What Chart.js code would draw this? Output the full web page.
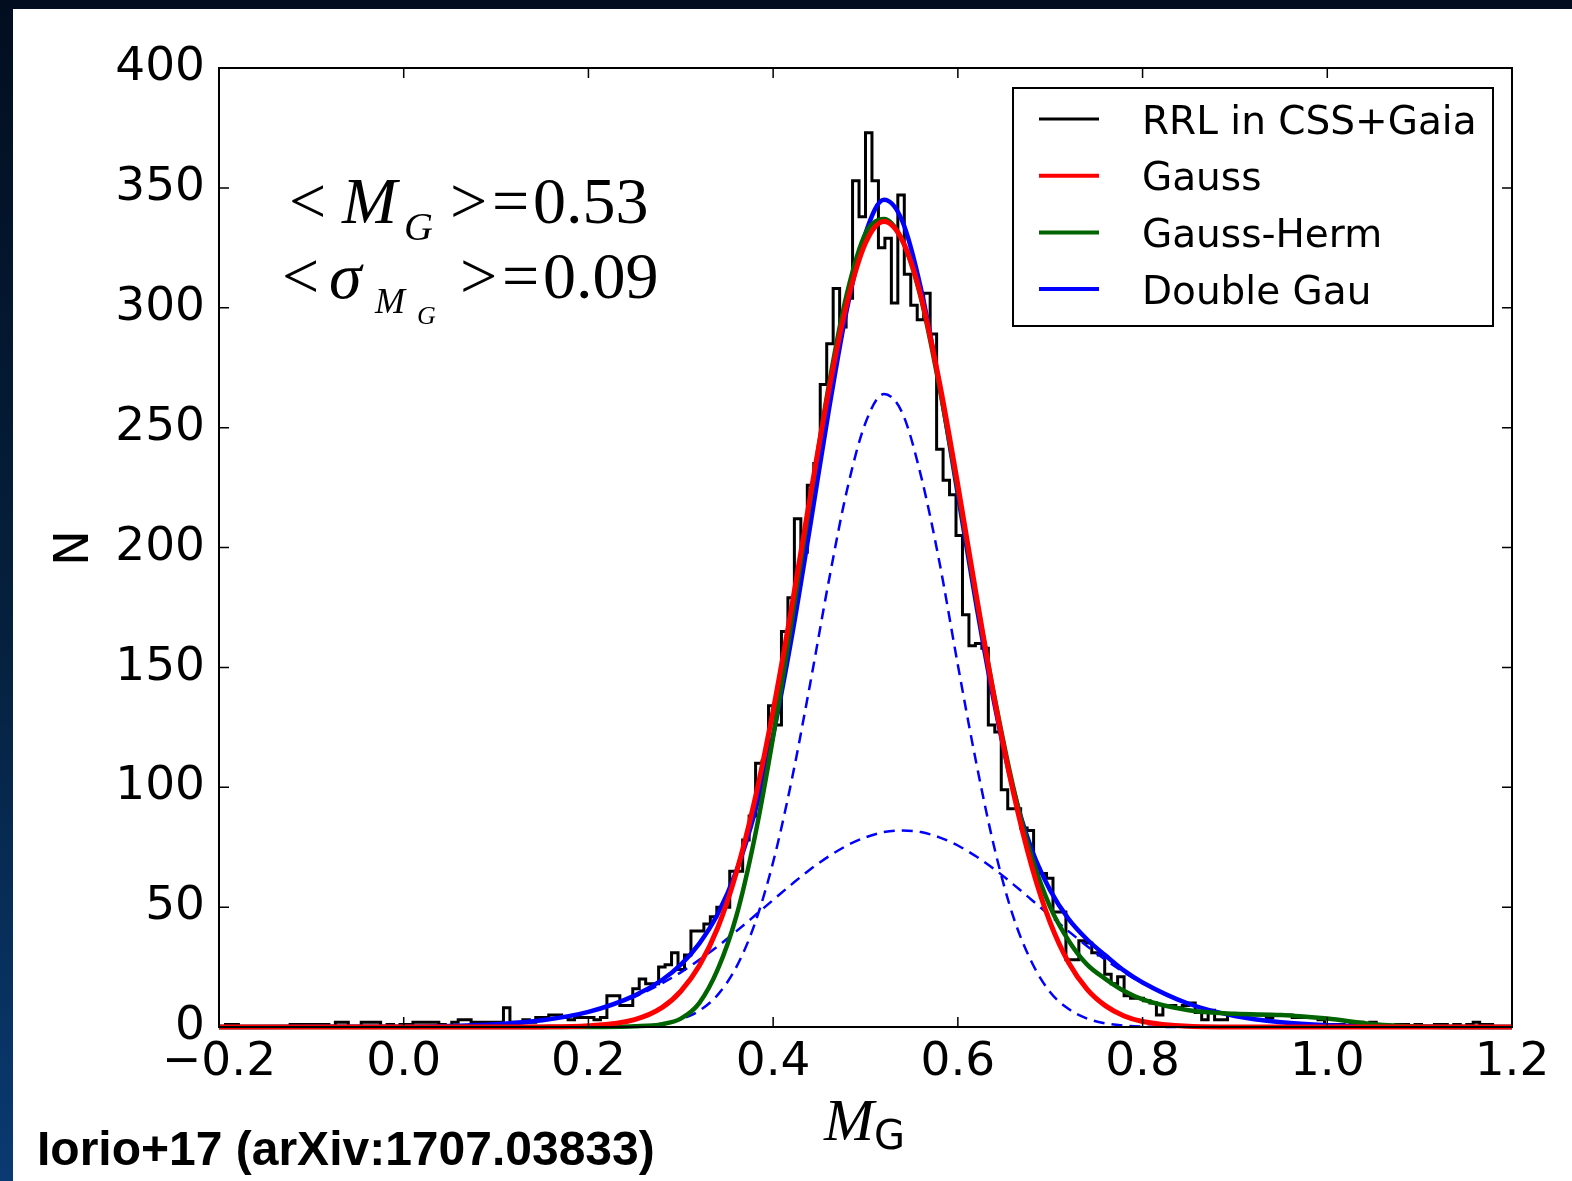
<!DOCTYPE html>
<html>
<head>
<meta charset="utf-8">
<script src="https://cdn.jsdelivr.net/npm/chart.js@4.4.1/dist/chart.umd.min.js"></script>
<style>
  html, body { margin: 0; padding: 0; width: 1572px; height: 1181px; overflow: hidden; }
  body { position: relative; background: linear-gradient(to bottom, #020e20 0%, #05213f 55%, #0a3a72 100%); }
  #panel { position: absolute; left: 13px; top: 9px; right: 0; bottom: 0; background: #ffffff; }
  #contenedor { position: absolute; left: 0; top: 0; width: 1572px; height: 1181px; }
</style>
</head>
<body>
<div id="panel"></div>
<div id="contenedor"><canvas id="grafica"></canvas></div>
<script>
// Histograma de M_G: bins de 0.007 desde -0.2
var inicioBins = -0.2;
var anchoBin = 0.007;
var conteos = [
  0, 0, 1, 1, 0, 0, 0, 0, 0, 0,
  0, 0, 1, 1, 1, 1, 1, 1, 0, 2,
  2, 0, 0, 2, 2, 2, 0, 1, 0, 1,
  1, 2, 2, 2, 2, 1, 0, 2, 3, 3,
  2, 2, 2, 2, 2, 8, 2, 2, 3, 2,
  4, 4, 5, 5, 4, 3, 4, 4, 4, 3,
  4, 13, 13, 9, 9, 16, 20, 18, 18, 25,
  26, 31, 24, 30, 40, 40, 43, 46, 50, 50,
  65, 65, 78, 88, 110, 111, 134, 126, 165, 179,
  212, 198, 226, 235, 268, 285, 308, 292, 304, 353,
  338, 373, 353, 325, 329, 302, 347, 314, 301, 295,
  306, 289, 241, 228, 222, 205, 172, 159, 160, 158,
  126, 123, 99, 91, 91, 83, 82, 66, 64, 62,
  48, 48, 28, 28, 36, 35, 31, 30, 22, 18,
  21, 13, 12, 12, 11, 10, 5, 9, 9, 8,
  9, 10, 6, 3, 7, 3, 3, 5, 5, 4,
  5, 5, 5, 4, 5, 5, 5, 4, 4, 4,
  4, 3, 1, 1, 1, 0, 2, 2, 1, 2,
  0, 0, 0, 1, 1, 0, 1, 0, 0, 1,
  1, 0, 1, 0, 1, 2, 1, 1, 0, 0
];

// Curvas de ajuste
var xAjuste = [-0.2, -0.1, 0.0, 0.05, 0.1, 0.15, 0.2, 0.25,
  0.28, 0.30, 0.32, 0.34, 0.36, 0.38, 0.40, 0.42, 0.44, 0.46, 0.48, 0.50, 0.52, 0.54,
  0.56, 0.58, 0.60, 0.62, 0.64, 0.66, 0.68, 0.70, 0.72, 0.74, 0.76, 0.78, 0.80,
  0.85, 0.90, 0.95, 1.00, 1.05, 1.10, 1.15, 1.20];
var gauss = [0, 0, 0, 0, 0, 0.05, 0.5, 3.1,
  8.2, 14.9, 25.5, 41.4, 64.2, 94.4, 132, 175, 221, 265, 302, 327, 336, 328,
  305, 269, 226, 180, 136, 98, 67, 43.5, 26.8, 15.7, 8.8, 4.6, 2.3,
  0.3, 0, 0, 0, 0, 0, 0, 0];
var gaussHerm = [0, 0, 0, 0, 0, 0, 0, 0.3,
  1.2, 3.5, 10, 24, 46, 79, 121, 169, 219, 267, 306, 331, 337, 328,
  304, 267, 224, 179, 137, 100, 71, 50, 36, 26, 20, 15, 11.5,
  7, 5.5, 5, 3.5, 1.2, 0.2, 0, 0];
var dobleGau = [0, 0.1, 0.15, 0.4, 1.1, 2.8, 6.3, 13.1,
  19.7, 26, 34.8, 47.1, 64.8, 89.3, 121.8, 162.3, 208.7, 256.6, 299.7, 331, 345, 336,
  308, 268, 222, 176, 134, 99, 74, 57, 45, 36.5, 29.8, 23.5, 18.6,
  9.7, 4.6, 2.0, 0.75, 0.25, 0.08, 0, 0];
var gauAngosta = [0, 0, 0, 0, 0, 0, 0, 0.2,
  1.4, 3.2, 6.8, 13.4, 24.9, 42.9, 68.8, 102.8, 143, 185.5, 224, 252, 264, 256,
  230, 194, 151, 110, 74, 46, 27, 14.5, 7.5, 3.5, 1.5, 0.6, 0.2,
  0, 0, 0, 0, 0, 0, 0, 0];
var gauAncha = [0, 0.02, 0.13, 0.4, 1.1, 2.8, 6.3, 12.7,
  18.3, 22.8, 28, 33.7, 39.9, 46.4, 53, 59.5, 65.7, 71.1, 75.7, 79.1, 81.3, 82,
  81.3, 79.1, 75.7, 71.1, 65.7, 59.5, 53, 46.4, 39.9, 33.7, 28, 22.8, 18.3,
  9.7, 4.6, 2.0, 0.75, 0.25, 0.08, 0, 0];

var etiquetas = ['RRL in CSS+Gaia', 'Gauss', 'Gauss-Herm', 'Double Gau'];
var ticksX = [-0.2, 0.0, 0.2, 0.4, 0.6, 0.8, 1.0, 1.2];
var ticksY = [0, 50, 100, 150, 200, 250, 300, 350, 400];

// Puntos del histograma (escalones)
function puntosHistograma() {
    var pts = conteos.map(function (c, i) {
        return { x: inicioBins + i * anchoBin, y: c };
    });
    pts.push({ x: inicioBins + conteos.length * anchoBin, y: conteos[conteos.length - 1] });
    return pts;
}

function puntosCurva(valores) {
    return xAjuste.map(function (x, i) { return { x: x, y: valores[i] }; });
}

function formatoTick(v) {
    if (Math.abs(v) < 1e-9) return '0.0';
    return v.toFixed(1).replace('-', '\u2212');
}

// Marco, ticks internos, leyenda y textos
var decoracion = {
    id: 'decoracion',
    afterDraw: function (chart) {
        var ctx = chart.ctx;
        var a = chart.chartArea;
        var sx = chart.scales.x, sy = chart.scales.y;
        ctx.save();

        // ticks hacia adentro en los cuatro lados
        ctx.strokeStyle = '#000';
        ctx.lineWidth = 1.5;
        ctx.beginPath();
        ticksX.forEach(function (v) {
            var px = sx.getPixelForValue(v);
            ctx.moveTo(px, a.bottom); ctx.lineTo(px, a.bottom - 10);
            ctx.moveTo(px, a.top); ctx.lineTo(px, a.top + 10);
        });
        ticksY.forEach(function (v) {
            var py = sy.getPixelForValue(v);
            ctx.moveTo(a.left, py); ctx.lineTo(a.left + 10, py);
            ctx.moveTo(a.right, py); ctx.lineTo(a.right - 10, py);
        });
        ctx.stroke();

        // marco
        ctx.lineWidth = 2;
        ctx.strokeRect(a.left, a.top, a.right - a.left, a.bottom - a.top);

        // leyenda
        var bx = a.right - 19 - 480, by = a.top + 20;
        ctx.fillStyle = '#fff';
        ctx.fillRect(bx, by, 480, 238);
        ctx.lineWidth = 2;
        ctx.strokeStyle = '#000';
        ctx.strokeRect(bx, by, 480, 238);
        var colores = ['#000000', '#ff0000', '#006400', '#0000ff'];
        ctx.font = '39px "DejaVu Sans"';
        ctx.textAlign = 'left';
        ctx.textBaseline = 'alphabetic';
        etiquetas.forEach(function (t, i) {
            var fy = by + 31 + i * 56.7;
            ctx.strokeStyle = colores[i];
            ctx.lineWidth = i === 0 ? 3 : 4;
            ctx.beginPath();
            ctx.moveTo(bx + 26, fy); ctx.lineTo(bx + 86, fy);
            ctx.stroke();
            ctx.fillStyle = '#000';
            ctx.fillText(t, bx + 129, fy + 14.5);
        });

        // titulo del eje y
        ctx.fillStyle = '#000';
        ctx.save();
        ctx.translate(88, 548);
        ctx.rotate(-Math.PI / 2);
        ctx.font = '48px "DejaVu Sans"';
        ctx.textAlign = 'center';
        ctx.fillText('N', 0, 0);
        ctx.restore();

        // titulo del eje x: M_G
        ctx.textAlign = 'left';
        ctx.font = 'italic 60px "Liberation Serif"';
        ctx.fillText('M', 824, 1140);
        ctx.font = '40px "DejaVu Sans"';
        ctx.fillText('G', 874, 1149);

        // anotacion <M_G> = 0.53
        ctx.font = '66px "Liberation Serif"';
        ctx.fillText('<', 289, 223);
        ctx.font = 'italic 66px "Liberation Serif"';
        ctx.fillText('M', 342, 223);
        ctx.font = 'italic 40px "Liberation Serif"';
        ctx.fillText('G', 404, 240);
        ctx.font = '66px "Liberation Serif"';
        ctx.fillText('>', 450, 223);
        ctx.fillText('=', 492, 223);
        ctx.fillText('0.53', 533, 223);

        // anotacion <sigma_{M_G}> = 0.09
        ctx.fillText('<', 282, 298);
        ctx.font = 'italic 66px "Liberation Serif"';
        ctx.fillText('\u03c3', 329, 298);
        ctx.font = 'italic 36px "Liberation Serif"';
        ctx.fillText('M', 375, 313);
        ctx.font = 'italic 26px "Liberation Serif"';
        ctx.fillText('G', 417, 324);
        ctx.font = '66px "Liberation Serif"';
        ctx.fillText('>', 460, 298);
        ctx.fillText('=', 502, 298);
        ctx.fillText('0.09', 543, 298);

        // referencia
        ctx.font = 'bold 48px "Liberation Sans"';
        ctx.fillText('Iorio+17 (arXiv:1707.03833)', 37, 1165);

        ctx.restore();
    }
};

var ctx = document.getElementById('grafica').getContext('2d');
var fuenteTicks = { family: 'DejaVu Sans', size: 47 };

new Chart(ctx, {
    type: 'line',
    data: {
        datasets: [{
            label: etiquetas[1],
            data: puntosCurva(gauss),
            borderColor: '#ff0000',
            borderWidth: 5,
            cubicInterpolationMode: 'monotone',
            order: 0
        }, {
            label: etiquetas[2],
            data: puntosCurva(gaussHerm),
            borderColor: '#006400',
            borderWidth: 4.5,
            cubicInterpolationMode: 'monotone',
            order: 1
        }, {
            label: etiquetas[3],
            data: puntosCurva(dobleGau),
            borderColor: '#0000ff',
            borderWidth: 4.5,
            cubicInterpolationMode: 'monotone',
            order: 2
        }, {
            label: 'componente angosta',
            data: puntosCurva(gauAngosta),
            borderColor: '#0000ff',
            borderWidth: 2.5,
            borderDash: [11, 7],
            cubicInterpolationMode: 'monotone',
            order: 3
        }, {
            label: 'componente ancha',
            data: puntosCurva(gauAncha),
            borderColor: '#0000ff',
            borderWidth: 2.5,
            borderDash: [11, 7],
            cubicInterpolationMode: 'monotone',
            order: 4
        }, {
            label: etiquetas[0],
            data: puntosHistograma(),
            borderColor: '#000000',
            borderWidth: 3,
            stepped: 'after',
            order: 5
        }]
    },
    options: {
        responsive: true,
        maintainAspectRatio: false,
        animation: false,
        layout: { padding: { left: 0, top: 68, right: 60, bottom: 0 } },
        elements: { point: { radius: 0 } },
        datasets: { line: { clip: 6, fill: false } },
        plugins: { legend: { display: false }, tooltip: { enabled: false } },
        scales: {
            x: {
                type: 'linear',
                min: -0.2,
                max: 1.2,
                afterBuildTicks: function (s) { s.ticks = ticksX.map(function (v) { return { value: v }; }); },
                afterFit: function (s) { s.height = 154; },
                grid: { display: false, drawTicks: false },
                border: { display: false },
                ticks: { autoSkip: false, maxRotation: 0, padding: 8, color: '#000', font: fuenteTicks, callback: formatoTick }
            },
            y: {
                min: 0,
                max: 400,
                afterBuildTicks: function (s) { s.ticks = ticksY.map(function (v) { return { value: v }; }); },
                afterFit: function (s) { s.width = 219; },
                grid: { display: false, drawTicks: false },
                border: { display: false },
                ticks: { padding: 14, color: '#000', font: fuenteTicks }
            }
        }
    },
    plugins: [decoracion]
});
</script>
</body>
</html>
